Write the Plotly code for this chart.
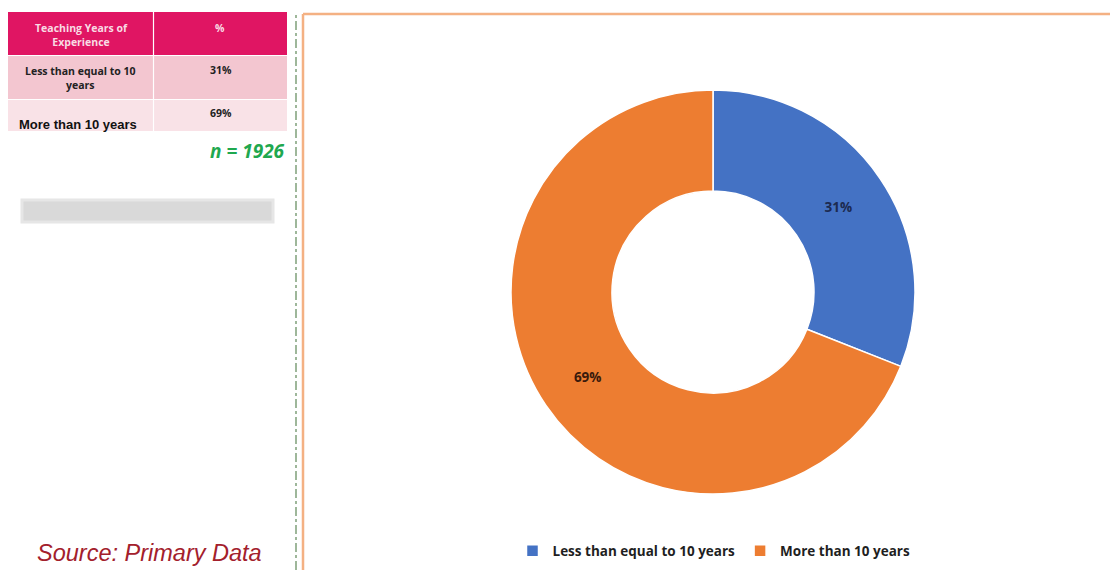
import plotly.graph_objects as go

# Teaching experience split
categories = ["Less than equal to 10 years", "More than 10 years"]
shares = [31, 69]
colors = ["#4472C4", "#ED7D31"]
label_colors = ["#1c2a50", "#3a1a0c"]
table_header = ["Teaching Years of<br>Experience", "%"]
table_rows = ["Less than equal to 10<br>years", "More than 10 years"]
sample_size = 1926

W, H = 1110, 570

def px(x):
    return x / W

def py(y):
    return 1 - y / H

fig = go.Figure()

fig.add_trace(go.Pie(
    labels=categories,
    values=shares,
    marker=dict(colors=colors, line=dict(color="white", width=1.5)),
    hole=0.5,
    sort=False,
    direction="clockwise",
    rotation=0,
    texttemplate="%{value}%",
    textposition="inside",
    insidetextorientation="horizontal",
    textfont=dict(family="Open Sans", size=13.5, color=label_colors, weight="bold"),
    domain=dict(x=[px(511), px(915)], y=[py(494), py(90)]),
    showlegend=True,
    hoverinfo="label+percent",
))

shapes = []
annotations = []

def note(x, y, text, font, xanchor="center"):
    annotations.append(dict(x=px(x), y=py(y), xref="paper", yref="paper",
                            xanchor=xanchor, yanchor="middle",
                            text=text, showarrow=False, font=font))

# Table on the left
shapes.append(dict(type="rect", xref="paper", yref="paper",
                   x0=px(8), x1=px(287), y0=py(55), y1=py(12),
                   fillcolor="#E01563", line=dict(width=0), layer="below"))
shapes.append(dict(type="rect", xref="paper", yref="paper",
                   x0=px(8), x1=px(287), y0=py(99), y1=py(56),
                   fillcolor="#F3C6D0", line=dict(width=0), layer="below"))
shapes.append(dict(type="rect", xref="paper", yref="paper",
                   x0=px(8), x1=px(287), y0=py(131), y1=py(100),
                   fillcolor="#F9E2E7", line=dict(width=0), layer="below"))
shapes.append(dict(type="line", xref="paper", yref="paper",
                   x0=px(153.5), x1=px(153.5), y0=py(131), y1=py(12),
                   line=dict(color="white", width=1.2)))
shapes.append(dict(type="line", xref="paper", yref="paper",
                   x0=px(8), x1=px(287), y0=py(55.5), y1=py(55.5),
                   line=dict(color="white", width=1.2)))
shapes.append(dict(type="line", xref="paper", yref="paper",
                   x0=px(8), x1=px(287), y0=py(99.5), y1=py(99.5),
                   line=dict(color="white", width=1.2)))

hdr_font = dict(family="Open Sans", size=10.5, color="#F8DCE4", weight="bold")
cell_font = dict(family="Open Sans", size=10.5, color="#222222", weight="bold")
note(81, 35, table_header[0], hdr_font)
note(220, 28, table_header[1], hdr_font)
note(80, 78, table_rows[0], cell_font)
note(221, 70, f"{shares[0]}%", cell_font)
note(78, 124, table_rows[1],
     dict(family="Liberation Sans", size=13, color="#111111", weight="bold"))
note(221, 113, f"{shares[1]}%", cell_font)

note(287, 151, f"<i>n = {sample_size}</i>",
     dict(family="Open Sans", size=19, color="#1FA84F", weight="bold"), xanchor="right")

# Grey placeholder bar
shapes.append(dict(type="rect", xref="paper", yref="paper",
                   x0=px(22), x1=px(273), y0=py(222), y1=py(200),
                   fillcolor="#D9D9D9", line=dict(color="#E6E6E6", width=3)))

note(149, 553, "<i>Source: Primary Data</i>",
     dict(family="Liberation Sans", size=23.5, color="#A3202C"))

# Dashed divider
shapes.append(dict(type="line", xref="paper", yref="paper",
                   x0=px(296), x1=px(296), y0=py(570), y1=py(12),
                   line=dict(color="#7FA07A", width=1.5, dash="dashdot")))

# Orange frame around the chart area
shapes.append(dict(type="line", xref="paper", yref="paper",
                   x0=px(303), x1=1, y0=py(14), y1=py(14),
                   line=dict(color="#F4B183", width=2.5)))
shapes.append(dict(type="line", xref="paper", yref="paper",
                   x0=px(303), x1=px(303), y0=0, y1=py(14),
                   line=dict(color="#F4B183", width=2.5)))

fig.update_layout(
    width=W, height=H,
    margin=dict(l=0, r=0, t=0, b=0),
    paper_bgcolor="white",
    plot_bgcolor="white",
    shapes=shapes,
    annotations=annotations,
    legend=dict(orientation="h", x=px(714), xanchor="center", y=py(551), yanchor="middle",
                font=dict(family="Open Sans", size=13.5, color="#1f1f1f", weight="bold"),
                itemwidth=30, traceorder="normal"),
)

fig.write_html("out.html")
